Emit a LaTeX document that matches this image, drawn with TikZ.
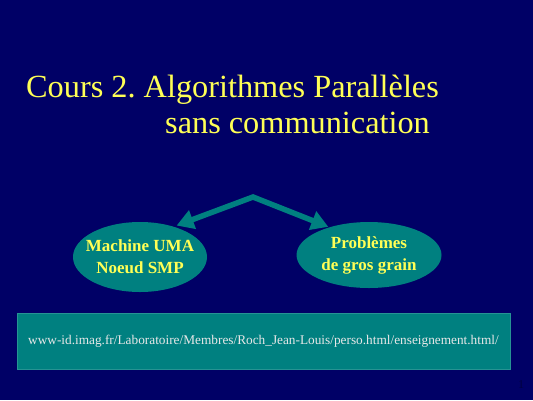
\documentclass[tikz,border=0pt]{standalone}
\usepackage{fontspec}
\setmainfont{Liberation Serif}
\usetikzlibrary{shapes.geometric,arrows.meta}
\definecolor{navy}{HTML}{000066}
\definecolor{tealc}{HTML}{008080}
\definecolor{titley}{HTML}{FFFF55}
\definecolor{urlc}{HTML}{E8E8E8}
\definecolor{pagec}{HTML}{000040}
\frenchspacing
\tikzset{
  titletext/.style={anchor=base west, inner sep=0pt, text=titley, font=\fontsize{32.3}{36}\selectfont},
  blob/.style={ellipse, fill=tealc, draw=none, inner sep=0pt},
  blobtext/.style={text=titley, font=\bfseries\fontsize{17}{22}\selectfont, align=center, inner sep=0pt},
  bigarrow/.style={draw=tealc, line width=5.5pt, line join=miter, {Triangle[length=17pt,width=19pt]}-{Triangle[length=17pt,width=19pt]}},
  urlbox/.style={fill=tealc, draw=tealc!85!white, line width=0.6pt, minimum width=493pt, minimum height=56pt, inner sep=0pt, text=urlc, font=\fontsize{13.3}{15}\selectfont},
}
\begin{document}
\begin{tikzpicture}[x=1pt,y=-1pt]
\fill[navy] (0,0) rectangle (533,400);
\useasboundingbox (0,0) rectangle (533,400);
\node[titletext] (t1) at (26,97) {Cours 2. Algorithmes Parallèles};
\node[titletext] (t2) at (165,133) {sans communication};
\node[blob, minimum width=134pt, minimum height=70pt] (uma) at (140,257) {};
\node[blobtext] (umat) at (uma.center) {Machine UMA\\Noeud SMP};
\node[blob, minimum width=145pt, minimum height=66pt] (gros) at (369,255) {};
\node[blobtext] (grost) at (gros.center) {Problèmes\\de gros grain};
\coordinate (peak) at (253,197);
\draw[bigarrow, shorten <=3pt, shorten >=1pt] (uma.42) -- (peak) -- (gros.145);
\node[urlbox] (url) at (263.5,341) {www-id.imag.fr/Laboratoire/Membres/Roch\_Jean-Louis/perso.html/enseignement.html/};
\node[text=pagec, font=\fontsize{12}{14}\selectfont, inner sep=0pt] (pg) at (521,385) {1};
\end{tikzpicture}
\end{document}
